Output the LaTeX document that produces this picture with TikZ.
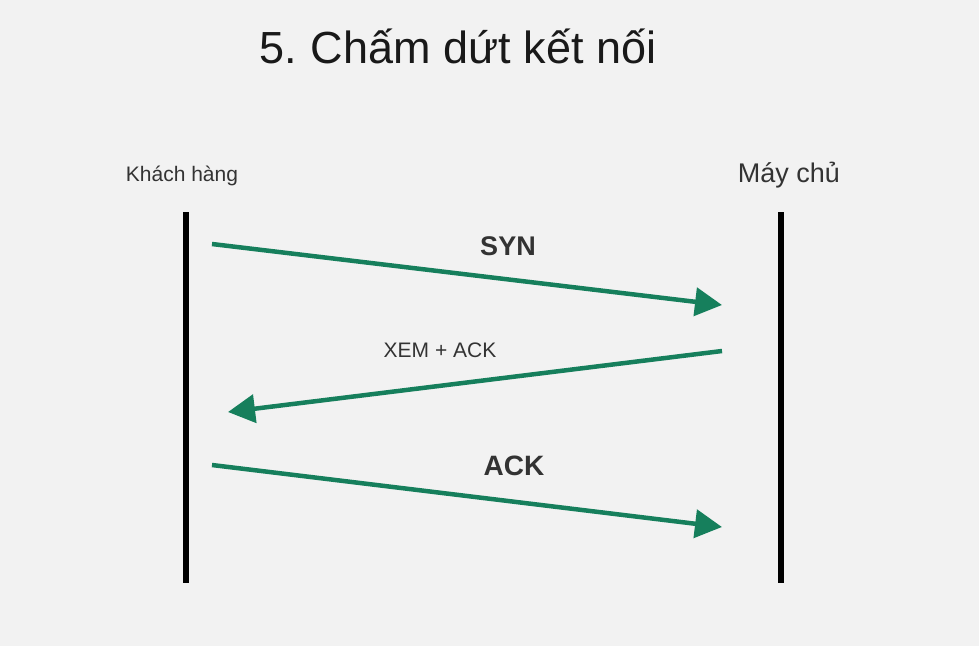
\documentclass[tikz,border=0pt]{standalone}
\usepackage{fontspec}
\setmainfont{Liberation Sans}
\usetikzlibrary{arrows.meta}
\definecolor{bg}{HTML}{F2F2F2}
\definecolor{arrowgreen}{HTML}{167F5C}
\definecolor{txtgray}{HTML}{333333}
\begin{document}
\begin{tikzpicture}[x=1pt,y=-1pt,
  lifeline/.style={line width=6.5pt,black},
  msg/.style={line width=4.5pt,arrowgreen,-{Triangle[length=27pt,width=28pt]}},
  lbl/.style={anchor=base,inner sep=0pt,text=txtgray}]
\fill[bg] (0,0) rectangle (979,646);
\useasboundingbox (0,0) rectangle (979,646);
\node[anchor=base,inner sep=0pt,text=black!90,font=\fontsize{45}{50}\selectfont] (title) at (458,63) {5.\hspace{-3pt} Chấm dứt kết nối};
\node[lbl,font=\fontsize{21}{24}\selectfont] (client) at (182,181) {Khách hàng};
\node[lbl,font=\fontsize{27}{30}\selectfont] (server) at (789,182) {Máy chủ};
\coordinate (c1) at (186,212);
\coordinate (c2) at (186,583);
\coordinate (s1) at (781,212);
\coordinate (s2) at (781,583);
\draw[lifeline] (c1) -- (c2);
\draw[lifeline] (s1) -- (s2);
\coordinate (a1s) at (212,244);
\coordinate (a1e) at (722,305);
\coordinate (a2s) at (722,351);
\coordinate (a2e) at (228,412);
\coordinate (a3s) at (212,465);
\coordinate (a3e) at (722,527);
\draw[msg] (a1s) -- (a1e);
\draw[msg] (a2s) -- (a2e);
\draw[msg] (a3s) -- (a3e);
\node[lbl,font=\bfseries\fontsize{27}{30}\selectfont] (syn) at (508,255) {SYN};
\node[lbl,font=\fontsize{21}{24}\selectfont] (synack) at (440,357) {XEM + ACK};
\node[lbl,font=\bfseries\fontsize{28}{30}\selectfont] (ack) at (514,475) {ACK};
\end{tikzpicture}
\end{document}
